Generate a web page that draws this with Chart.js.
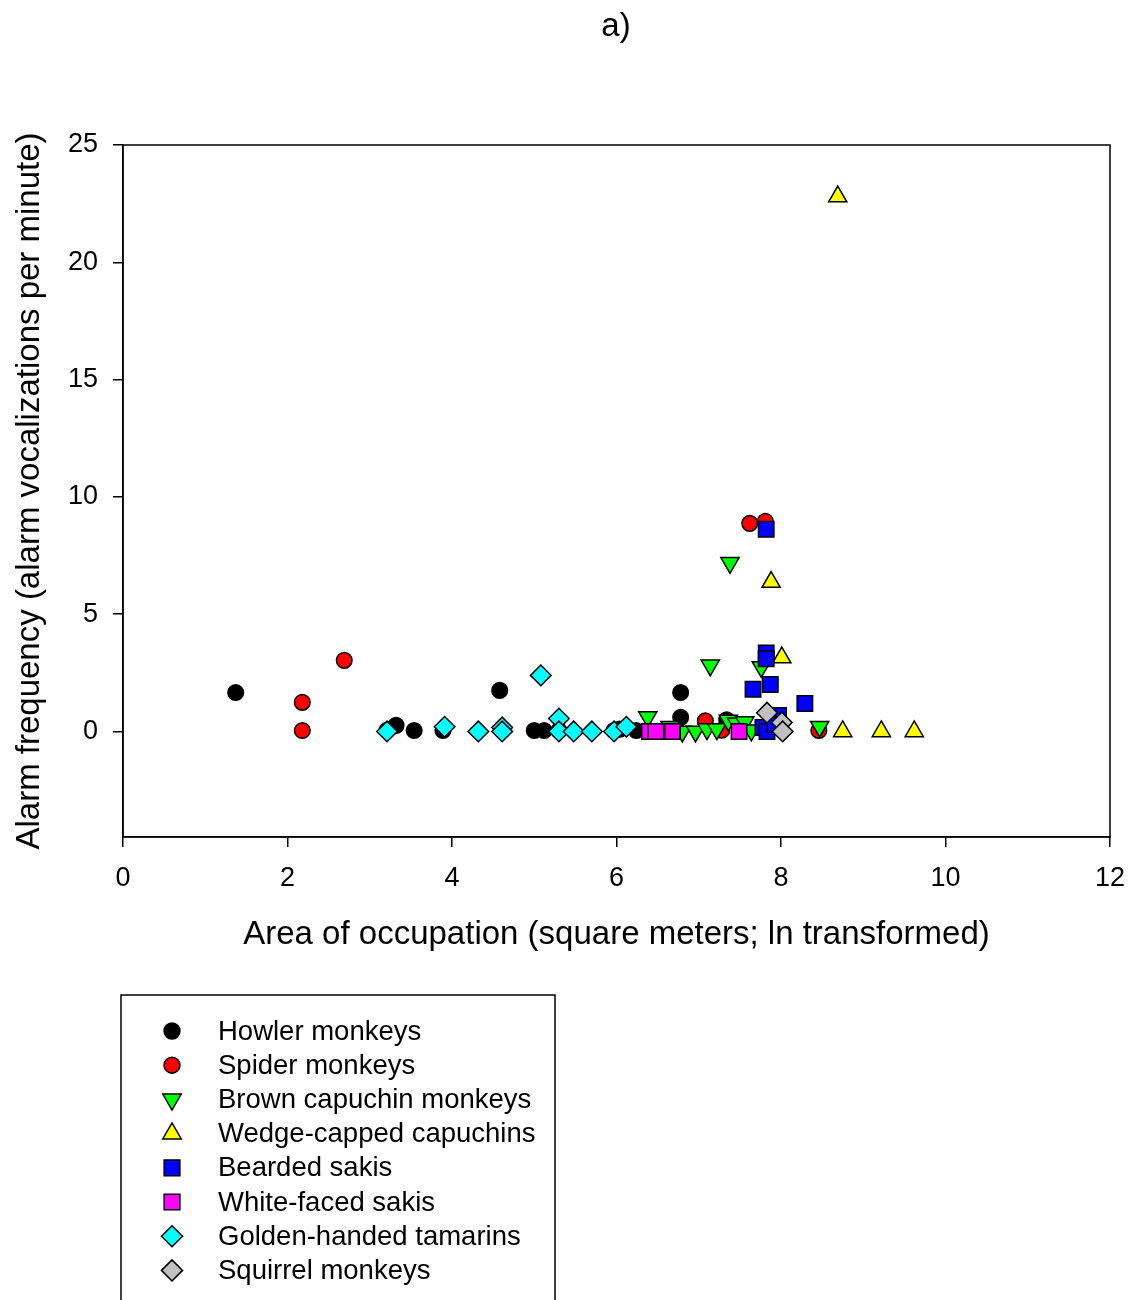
<!DOCTYPE html>
<html><head><meta charset="utf-8">
<script src="https://cdn.jsdelivr.net/npm/chart.js@4.4.1/dist/chart.umd.min.js"></script>
<style>html,body{margin:0;padding:0;background:#fff}#wrap{width:1135px;height:1300px;position:relative}</style>
</head><body><div id="wrap"><canvas id="c" width="1135" height="1300"></canvas></div>
<script>
// ---- data ----
const chartTitle = "a)";
const xAxisTitle = "Area of occupation (square meters; ln transformed)";
const yAxisTitle = "Alarm frequency (alarm vocalizations per minute)";
const xTicks = [0, 2, 4, 6, 8, 10, 12];
const yTicks = [0, 5, 10, 15, 20, 25];
const seriesNames = ["Howler monkeys", "Spider monkeys", "Brown capuchin monkeys", "Wedge-capped capuchins",
  "Bearded sakis", "White-faced sakis", "Golden-handed tamarins", "Squirrel monkeys"];

const howlerX = [1.37, 4.58, 6.78, 6.78, 3.32, 3.21, 3.54, 3.89, 4.61, 5.0, 5.12, 5.3, 5.97, 6.04, 6.24, 7.34];
const howlerY = [1.66, 1.75, 1.66, 0.6, 0.26, 0.05, 0.04, 0.04, 0.04, 0.04, 0.04, 0.04, 0.04, 0.1, 0.04, 0.5];
const spiderX = [2.18, 2.18, 2.69, 7.62, 7.81, 7.08, 7.28, 8.46];
const spiderY = [1.24, 0.04, 3.03, 8.87, 8.96, 0.45, 0.05, 0.04];
const brownX = [7.38, 7.14, 7.76, 6.38, 8.47, 6.65, 6.8, 6.96, 7.1, 7.22, 7.36, 7.46, 7.56, 7.64];
const brownY = [7.19, 2.82, 2.75, 0.62, 0.2, 0.2, 0.0, 0.0, 0.1, 0.1, 0.47, 0.35, 0.4, 0.05];
const wedgeX = [8.69, 7.88, 8.01, 8.75, 9.22, 9.62];
const wedgeY = [22.8, 6.37, 3.15, 0, 0, 0];
const beardedX = [7.82, 7.82, 7.82, 7.66, 7.87, 8.29, 7.97, 7.78, 7.83, 7.92];
const beardedY = [8.62, 3.35, 3.1, 1.8, 2.0, 1.19, 0.68, 0.17, 0, 0.3];
const whiteX = [6.4, 6.48, 6.68, 7.49];
const whiteY = [0, 0, 0, 0];
const tamarinX = [5.08, 3.21, 3.91, 4.32, 4.61, 4.61, 5.3, 5.3, 5.48, 5.7, 5.97, 6.12];
const tamarinY = [2.39, 0, 0.2, 0, 0.17, 0, 0.55, 0, 0, 0, 0, 0.2];
const squirrelX = [7.83, 8.01, 8.02];
const squirrelY = [0.8, 0.38, 0];

// ---- styles ----
const seriesX = [howlerX, spiderX, brownX, wedgeX, beardedX, whiteX, tamarinX, squirrelX];
const seriesY = [howlerY, spiderY, brownY, wedgeY, beardedY, whiteY, tamarinY, squirrelY];
const fills = ["#000000", "#FF0000", "#00FF00", "#FFFF00", "#0000FF", "#FF00FF", "#00FFFF", "#C0C0C0"];
const shapes = ["circle", "circle", "triangle", "triangle", "rect", "rect", "rectRot", "rectRot"];
const rotations = [0, 0, 180, 0, 0, 0, 0, 0];
const radii = [7.8, 7.8, 10.5, 10.5, 10.9, 10.9, 10.3, 10.3];
const FONT = '"Liberation Sans", Arial, sans-serif';

const datasets = seriesNames.map((name, i) => ({
  label: name,
  data: seriesX[i].map((x, k) => ({x: x, y: seriesY[i][k]})),
  pointStyle: shapes[i],
  rotation: rotations[i],
  pointRadius: radii[i],
  pointHoverRadius: radii[i],
  backgroundColor: fills[i],
  borderColor: "#000000",
  borderWidth: 1.5,
  order: seriesNames.length - i
}));

const decor = {
  id: 'decor',
  beforeDatasetsDraw(chart) {
    const {ctx, chartArea: a} = chart;
    ctx.save();
    ctx.strokeStyle = '#000'; ctx.lineWidth = 1.5;
    ctx.strokeRect(a.left, a.top, a.right - a.left, a.bottom - a.top);
    ctx.restore();
  },
  afterDraw(chart) {
    const ctx = chart.ctx;
    ctx.save();
    ctx.fillStyle = '#000';
    ctx.font = '33px ' + FONT;
    ctx.textAlign = 'center'; ctx.textBaseline = 'middle';
    ctx.fillText(chartTitle, 616, 27);
    // legend
    ctx.strokeStyle = '#000'; ctx.lineWidth = 1.5;
    ctx.strokeRect(121, 995, 434, 400);
    ctx.font = '27.5px ' + FONT;
    ctx.textAlign = 'left';
    chart.data.datasets.forEach((ds, i) => {
      const y = 1031 + i * 34.2;
      ctx.fillStyle = ds.backgroundColor;
      ctx.strokeStyle = '#000';
      ctx.lineWidth = 1.5;
      Chart.helpers.drawPoint(ctx, {pointStyle: ds.pointStyle, radius: ds.pointRadius * 1.02, rotation: ds.rotation, borderWidth: 1.5}, 172, y);
      ctx.fillStyle = '#000';
      ctx.fillText(ds.label, 218, y + 1);
    });
    ctx.restore();
  }
};

new Chart(document.getElementById('c'), {
  type: 'scatter',
  data: {datasets: datasets},
  options: {
    responsive: false,
    animation: false,
    devicePixelRatio: 1,
    layout: {padding: {left: 0, right: 25, top: 145, bottom: 343}},
    plugins: {legend: {display: false}, tooltip: {enabled: false}, title: {display: false}},
    scales: {
      x: {
        type: 'linear', min: 0, max: 12,
        afterBuildTicks: s => { s.ticks = xTicks.map(v => ({value: v})); },
        afterFit: s => { s.height = 120; s.paddingLeft = 0; s.paddingRight = 0; },
        ticks: {color: '#000', font: {family: FONT, size: 27}, padding: 15, maxRotation: 0, autoSkip: false},
        grid: {drawOnChartArea: false, drawTicks: true, tickLength: 10, color: '#000', lineWidth: 1.5},
        border: {display: true, color: '#000', width: 1.5},
        title: {display: true, text: xAxisTitle, color: '#000', font: {family: FONT, size: 33}, padding: {top: 0, bottom: 2}}
      },
      y: {
        type: 'linear', min: -4.5, max: 25,
        afterBuildTicks: s => { s.ticks = yTicks.map(v => ({value: v})); },
        afterFit: s => { s.width = 123; s.paddingTop = 0; s.paddingBottom = 0; },
        ticks: {color: '#000', font: {family: FONT, size: 27}, padding: 15, autoSkip: false},
        grid: {drawOnChartArea: false, drawTicks: true, tickLength: 10, color: '#000', lineWidth: 1.5},
        border: {display: true, color: '#000', width: 1.5},
        title: {display: true, text: yAxisTitle, color: '#000', font: {family: FONT, size: 33}, padding: {top: 10, bottom: 0}}
      }
    }
  },
  plugins: [decor]
});
</script></body></html>
